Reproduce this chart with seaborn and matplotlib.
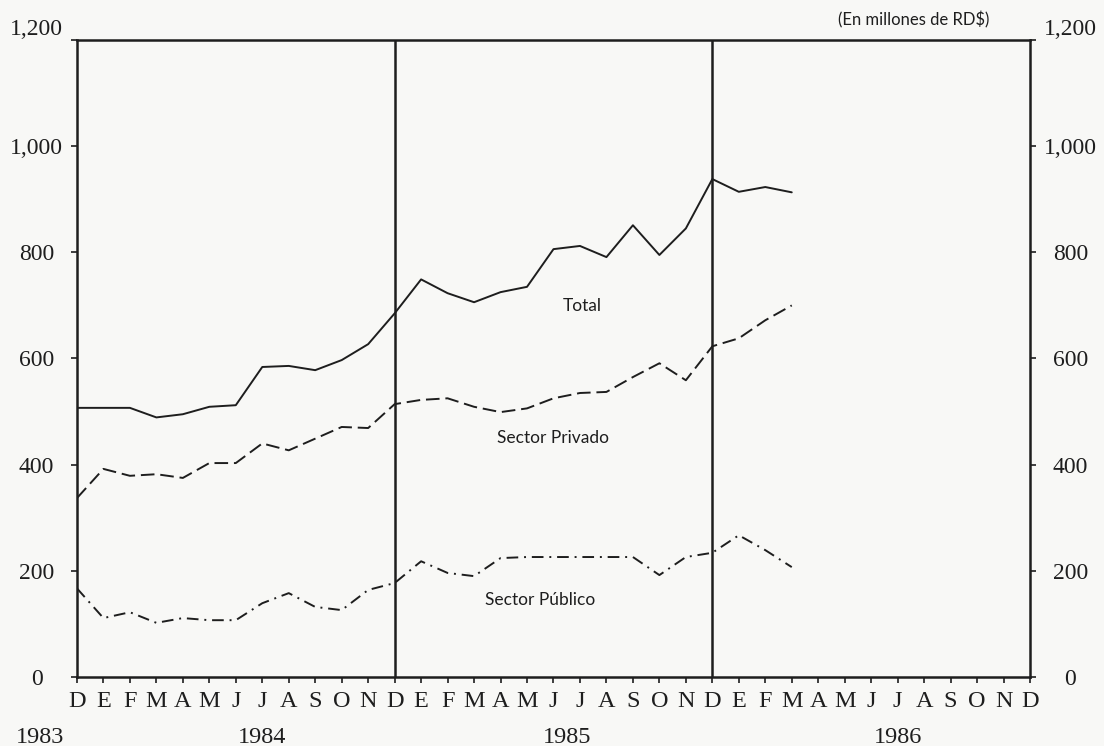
import matplotlib
matplotlib.use("Agg")
import matplotlib.pyplot as plt
import matplotlib.transforms as mtransforms
import seaborn as sns
import pandas as pd

# monthly values, Dec 1983 .. Mar 1986 (millones de RD$)
total = [507, 507, 507, 489, 495, 509, 512, 584, 586, 578, 597, 627, 685, 749,
         723, 706, 725, 735, 806, 812, 791, 851, 795, 845, 938, 914, 923, 913]
privado = [337, 392, 379, 382, 375, 403, 403, 440, 427, 449, 471, 469, 514, 522,
           525, 509, 499, 506, 525, 535, 537, 565, 591, 559, 623, 638, 672, 700]
publico = [167, 111, 122, 102, 111, 107, 107, 139, 158, 132, 126, 164, 177, 218,
           196, 190, 224, 226, 226, 226, 226, 226, 192, 226, 234, 267, 239, 207]

month_letters = list("DEFMAMJJASON") * 3 + ["D"]
years = ["1983", "1984", "1985", "1986"]
year_pos = [-1.4, 7.0, 18.5, 31.0]
y_ticks = [0, 200, 400, 600, 800, 1000, 1200]
y_ticklabels = ["0", "200", "400", "600", "800", "1,000", "1,200"]

df = pd.DataFrame({
    "mes": range(len(total)),
    "Total": total,
    "Sector Privado": privado,
    "Sector Público": publico,
})

sns.set_style("ticks")
plt.rcParams["font.family"] = ["Liberation Serif", "DejaVu Serif"]

ink = "#1e1e1e"
bg = "#f8f8f6"

fig = plt.figure(figsize=(11.04, 7.46), dpi=100, facecolor=bg)
ax = fig.add_axes([0.0697, 0.0925, 0.8633, 0.8539], facecolor=bg)

# Series lines
sns.lineplot(data=df, x="mes", y="Total", ax=ax, color=ink, lw=1.4,
             linestyle="-")
sns.lineplot(data=df, x="mes", y="Sector Privado", ax=ax, color=ink, lw=1.4,
             linestyle=(0, (7, 3)))
sns.lineplot(data=df, x="mes", y="Sector Público", ax=ax, color=ink, lw=1.4,
             linestyle=(0, (6, 3, 1, 3)))

# Year separators
ax.axvline(12, color=ink, lw=1.8)
ax.axvline(24, color=ink, lw=1.8)

ax.set_xlim(0, 36)
ax.set_ylim(0, 1200)
ax.set_xlabel("")
ax.set_ylabel("")

for side in ["left", "right", "top", "bottom"]:
    ax.spines[side].set_visible(True)
    ax.spines[side].set_linewidth(1.8)
    ax.spines[side].set_color(ink)

ax.set_xticks(range(37))
ax.set_xticklabels(month_letters, fontsize=17.5, color=ink)
ax.set_yticks(y_ticks)
ax.set_yticklabels(y_ticklabels, fontsize=17, color=ink)
ax.tick_params(axis="x", length=4, width=1.2, color=ink, pad=6)
ax.tick_params(axis="y", length=4, width=1.2, color=ink, right=True,
               labelright=True, pad=25)
for t in ax.yaxis.get_major_ticks():
    t.label1.set_horizontalalignment("center")
    t.label2.set_horizontalalignment("center")
    t.label2.set_fontsize(17)
    t.label2.set_color(ink)
# top value sits just above its tick
top_tick = ax.yaxis.get_major_ticks()[-1]
top_tick.label1.set_verticalalignment("bottom")
top_tick.label2.set_verticalalignment("bottom")

# Years under month letters
trans = mtransforms.blended_transform_factory(ax.transData, ax.transAxes)
for yr, pos in zip(years, year_pos):
    ax.text(pos, -0.095, yr, transform=trans, ha="center", va="center",
            fontsize=17.5, color=ink, clip_on=False)

# Series labels
sans = ["Lato", "DejaVu Sans"]
ax.text(19.1, 699, "Total", ha="center", va="center", fontsize=12.5,
        color=ink, family=sans)
ax.text(18.0, 450, "Sector Privado", ha="center", va="center", fontsize=12.5,
        color=ink, family=sans)
ax.text(17.5, 145, "Sector Público", ha="center", va="center", fontsize=12.5,
        color=ink, family=sans)
ax.text(31.6, 1237, "(En millones de RD$)", ha="center", va="center",
        fontsize=12, color=ink, family=sans, clip_on=False)

plt.savefig("out.png", dpi=100, facecolor=bg)
